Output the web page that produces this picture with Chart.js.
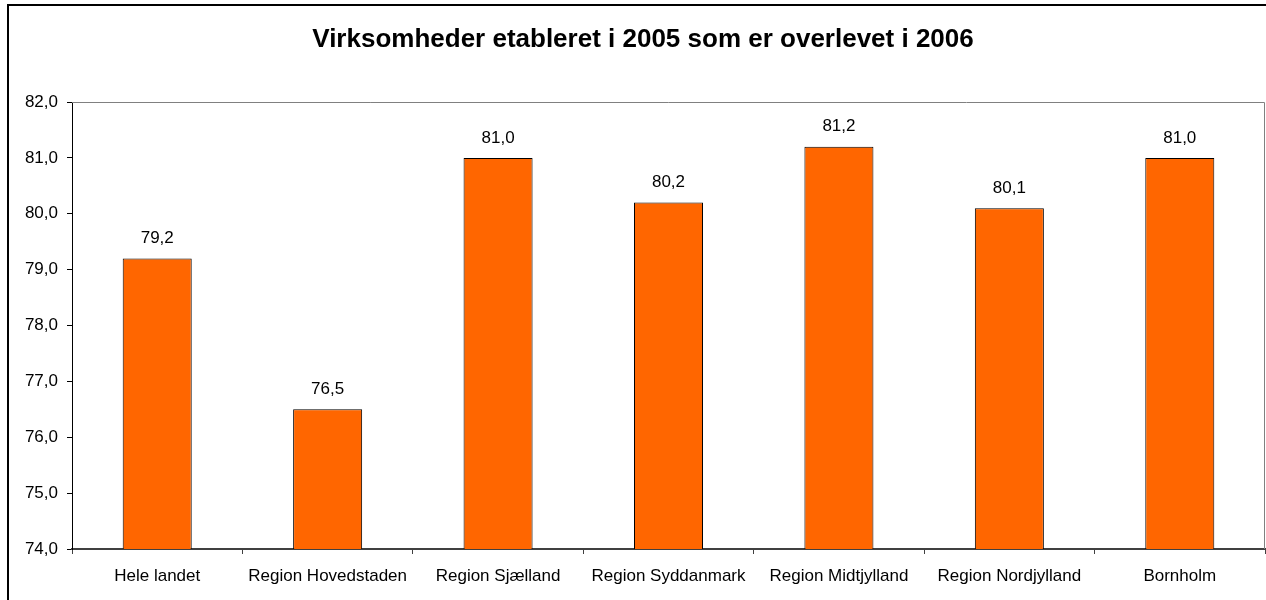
<!DOCTYPE html>
<html>
<head>
<meta charset="utf-8">
<script src="https://cdn.jsdelivr.net/npm/chart.js@4"></script>
<style>
  html, body { margin: 0; padding: 0; background: #fff; }
  #wrap { width: 1266px; height: 600px; }
</style>
</head>
<body>
<div id="wrap"><canvas id="grafico" width="1266" height="600"></canvas></div>
<script>
// data
var regioner = ['Hele landet', 'Region Hovedstaden', 'Region Sjælland', 'Region Syddanmark', 'Region Midtjylland', 'Region Nordjylland', 'Bornholm'];
var overlevet = [79.2, 76.5, 81.0, 80.2, 81.2, 80.1, 81.0];
var yMin = 74;
var yMax = 82;
var titel = 'Virksomheder etableret i 2005 som er overlevet i 2006';

var skrift = '"Liberation Sans", Arial, sans-serif';

function komma(v) {
   return Number(v).toFixed(1).replace('.', ',');
}

// frame around the whole chart, title, gray plot-area border (top/right) and value labels
var rammePlugin = {
   id: 'ramme',
   beforeDraw: function (chart) {
      var c = chart.ctx;
      c.save();
      c.strokeStyle = '#000';
      c.lineWidth = 2;
      c.strokeRect(8, 5, chart.width + 20, chart.height + 20);
      c.fillStyle = '#000';
      c.font = 'bold 26px ' + skrift;
      c.textAlign = 'center';
      c.textBaseline = 'middle';
      c.fillText(titel, 643, 40);
      c.restore();
   },
   afterDatasetsDraw: function (chart) {
      var c = chart.ctx, a = chart.chartArea;
      c.save();
      c.strokeStyle = '#808080';
      c.lineWidth = 1;
      c.beginPath();
      c.moveTo(a.left, Math.round(a.top) + 0.5);
      c.lineTo(Math.round(a.right) - 0.5, Math.round(a.top) + 0.5);
      c.lineTo(Math.round(a.right) - 0.5, a.bottom);
      c.stroke();
      c.fillStyle = '#000';
      c.font = '17px ' + skrift;
      c.textAlign = 'center';
      c.textBaseline = 'middle';
      chart.getDatasetMeta(0).data.forEach(function (bar, i) {
         c.fillText(komma(overlevet[i]), bar.x, bar.y - 20);
      });
      c.restore();
   }
};

var ctx = document.getElementById('grafico').getContext('2d');
new Chart(ctx, {
   type: 'bar',
   data: {
      labels: regioner,
      datasets: [{
         data: overlevet,
         backgroundColor: '#FF6600',
         borderColor: '#000',
         borderWidth: 1,
         barPercentage: 0.405,
         categoryPercentage: 1
      }]
   },
   options: {
      responsive: false,
      animation: false,
      layout: { padding: { left: 0, right: 1, top: 102, bottom: 0 } },
      plugins: {
         legend: { display: false },
         tooltip: { enabled: false },
         title: { display: false }
      },
      scales: {
         x: {
            offset: true,
            grid: {
               offset: true,
               drawOnChartArea: false,
               tickLength: 5,
               tickColor: '#404040'
            },
            border: { color: '#404040', width: 2 },
            ticks: {
               color: '#000',
               font: { family: skrift, size: 17 },
               padding: 12,
               maxRotation: 0,
               autoSkip: false
            },
            afterFit: function (s) { s.height = 51; }
         },
         y: {
            min: yMin,
            max: yMax,
            grid: {
               drawOnChartArea: false,
               tickLength: 5,
               tickColor: '#000'
            },
            border: { color: '#000', width: 1 },
            ticks: {
               stepSize: 1,
               color: '#000',
               padding: 9,
               font: { family: skrift, size: 17 },
               callback: function (v) { return komma(v); }
            },
            afterFit: function (s) { s.width = 72; }
         }
      }
   },
   plugins: [rammePlugin]
});
</script>
</body>
</html>
